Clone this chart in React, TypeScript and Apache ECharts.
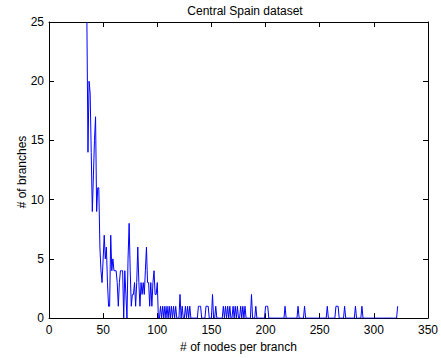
import React, { useEffect, useRef } from "react";
import * as echarts from "echarts";

// Histogram of branch sizes: number of branches having a given node count.
const chartTitle = "Central Spain dataset";
const xAxisTitle = "# of nodes per branch";
const yAxisTitle = "# of branches";

// Node counts start at this value and step by one per entry of branchCounts.
const firstNodeCount = 35;

// Branch counts, twenty node counts per row (35–54, 55–74, ...).
const branchCounts = [
  25, 14, 20, 19, 14, 9, 12, 15, 17, 9, 11, 11, 6, 4, 3, 5, 7, 5, 6, 3,
  1, 1, 7, 4, 5, 4, 4, 4, 3, 1, 3, 4, 4, 4, 0, 4, 2, 0, 5, 8,
  4, 1, 2, 2, 3, 1, 3, 6, 3, 1, 3, 2, 3, 2, 4, 6, 3, 3, 1, 3,
  1, 3, 4, 2, 2, 3, 0, 0, 1, 0, 1, 0, 1, 0, 1, 0, 1, 0, 1, 0,
  1, 0, 1, 0, 0, 0, 2, 0, 1, 0, 0, 1, 0, 1, 0, 1, 0, 0, 0, 0,
  0, 0, 0, 1, 1, 1, 0, 0, 0, 0, 1, 1, 1, 0, 0, 0, 2, 0, 0, 1,
  0, 0, 0, 0, 0, 0, 1, 0, 1, 0, 1, 0, 1, 0, 0, 1, 0, 1, 0, 1,
  0, 0, 1, 0, 1, 0, 1, 0, 0, 0, 0, 0, 2, 0, 0, 0, 1, 0, 0, 0,
  0, 0, 0, 0, 0, 1, 1, 1, 0, 0, 0, 0, 0, 0, 0, 0, 0, 0, 0, 0,
  0, 0, 0, 1, 0, 0, 0, 0, 0, 0, 0, 0, 0, 0, 0, 1, 0, 0, 0, 0,
  0, 1, 0, 0, 0, 0, 0, 0, 0, 0, 0, 0, 0, 0, 0, 0, 0, 0, 0, 0,
  0, 0, 1, 0, 0, 0, 0, 0, 0, 0, 1, 1, 1, 0, 0, 0, 0, 0, 1, 0,
  0, 0, 0, 0, 0, 0, 0, 0, 1, 0, 0, 0, 0, 0, 1, 0, 0, 0, 0, 0,
  0, 0, 0, 0, 0, 0, 0, 0, 0, 0, 0, 0, 0, 0, 0, 0, 0, 0, 0, 0,
  0, 0, 0, 0, 0, 0, 0, 1,
];

// Axis ranges and tick spacing.
const xMin = 0;
const xMax = 350;
const xStep = 50;
const yMin = 0;
const yMax = 25;
const yStep = 5;

const FONT = "'Liberation Sans', Arial, Helvetica, sans-serif";

export default function App() {
  const ref = useRef<HTMLDivElement>(null);

  useEffect(() => {
    if (!ref.current) return;
    const chart = echarts.init(ref.current, undefined, { renderer: "svg" });

    const points = branchCounts.map((count, i) => [firstNodeCount + i, count]);

    const frameLine = { show: true, onZero: false, lineStyle: { color: "#000", width: 1 } };
    const innerTick = { show: true, inside: true, length: 5, lineStyle: { color: "#000", width: 1 } };
    const tickFont = { color: "#000", fontSize: 12, fontFamily: FONT };

    chart.setOption({
      animation: false,
      backgroundColor: "#fff",
      title: {
        text: chartTitle,
        left: 240,
        top: 0,
        textAlign: "center",
        textStyle: { color: "#000", fontSize: 12, fontWeight: "normal", fontFamily: FONT },
      },
      grid: { left: 49, right: 11, top: 22, bottom: 36, containLabel: false },
      // Vertical axis title, placed beside the tick labels
      graphic: [
        {
          type: "text",
          x: 22,
          y: 172,
          rotation: Math.PI / 2,
          style: {
            text: yAxisTitle,
            fill: "#000",
            font: `12px ${FONT}`,
            textAlign: "center",
            textVerticalAlign: "middle",
          },
        },
      ],
      xAxis: [
        {
          type: "value",
          min: xMin,
          max: xMax,
          interval: xStep,
          position: "bottom",
          name: xAxisTitle,
          nameLocation: "middle",
          nameGap: 20,
          nameTextStyle: { color: "#000", fontSize: 12, fontFamily: FONT },
          axisLine: frameLine,
          axisTick: innerTick,
          axisLabel: { ...tickFont, margin: 6 },
          splitLine: { show: false },
        },
        {
          type: "value",
          min: xMin,
          max: xMax,
          interval: xStep,
          position: "top",
          axisLine: frameLine,
          axisTick: innerTick,
          axisLabel: { show: false },
          splitLine: { show: false },
        },
      ],
      yAxis: [
        {
          type: "value",
          min: yMin,
          max: yMax,
          interval: yStep,
          position: "left",
          axisLine: frameLine,
          axisTick: innerTick,
          axisLabel: { ...tickFont, margin: 5 },
          splitLine: { show: false },
        },
        {
          type: "value",
          min: yMin,
          max: yMax,
          interval: yStep,
          position: "right",
          axisLine: frameLine,
          axisTick: innerTick,
          axisLabel: { show: false },
          splitLine: { show: false },
        },
      ],
      series: [
        {
          type: "line",
          data: points,
          xAxisIndex: 0,
          yAxisIndex: 0,
          showSymbol: false,
          symbol: "none",
          clip: true,
          lineStyle: { color: "#0000ff", width: 1 },
          z: 3,
        },
      ],
    });

    return () => chart.dispose();
  }, []);

  return (
    <div
      ref={ref}
      style={{ position: "fixed", left: 0, top: 0, width: 441, height: 358, background: "#fff" }}
    />
  );
}
